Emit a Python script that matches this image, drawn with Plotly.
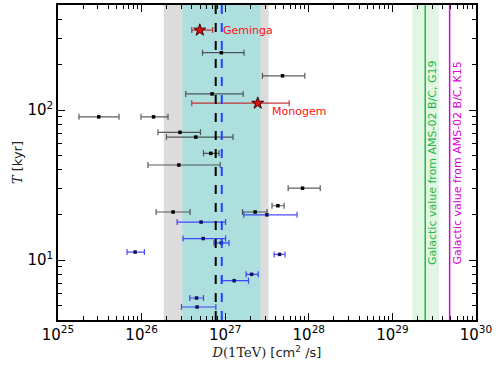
import numpy as np
import plotly.graph_objects as go

# 黑色数据点: D(1TeV) 中心值, 下限, 上限 [cm^2/s], 年龄 T [kyr]
black_D = [9.0e26, 4.85e27, 6.97e26, 3.07e25, 1.39e26, 2.88e26, 4.45e26,
           6.73e26, 2.79e26, 8.41e27, 4.27e27, 2.38e26, 2.28e27]
black_lo = [5.35e26, 2.79e27, 3.37e26, 1.78e25, 9.84e25, 1.57e26, 1.98e26,
            5.5e26, 1.19e26, 5.66e27, 3.63e27, 1.49e26, 1.61e27]
black_hi = [1.68e27, 8.97e27, 1.64e27, 5.37e25, 2.07e26, 5.06e26, 1.24e27,
            8.45e26, 8.71e26, 1.37e28, 5.07e27, 3.8e26, 3.17e27]
black_T = [241, 169, 128, 90, 90, 71, 66, 51.4, 43, 30.1, 23, 20.9, 20.9]

# 蓝色数据点
blue_D = [3.15e27, 5.15e26, 5.45e26, 9.0e26, 8.36e25, 4.47e27, 2.07e27,
          1.28e27, 4.54e26, 4.61e26]
blue_lo = [1.67e27, 2.66e26, 3.13e26, 7.36e26, 6.7e25, 3.85e27, 1.78e27,
           9.0e26, 3.77e26, 3.0e26]
blue_hi = [7.24e27, 1.01e27, 1.01e27, 1.11e27, 1.08e26, 5.21e27, 2.48e27,
           1.9e27, 5.5e26, 7.73e26]
blue_T = [20.0, 17.9, 13.9, 13.0, 11.3, 10.9, 8.03, 7.28, 5.58, 4.86]

# 脉冲星 (星形)
star_names = ['Geminga', 'Monogem']
star_D = [4.97e26, 2.45e27]
star_lo = [3.98e26, 3.98e26]
star_hi = [7.08e26, 5.82e27]
star_T = [341, 111]
label_D = [9.0e26, 3.4e27]
label_T = [341, 98]

# 参考线与带
D_black_line = 7.7e26
D_blue_line = 9.1e26
grey_band = [1.84e26, 3.3e27]
cyan_band = [3.08e26, 2.64e27]
g19_band = [1.73e29, 3.6e29]
g19_value = 2.47e29
k15_value = 4.84e29

# 刻度
x_major = [1e25, 1e26, 1e27, 1e28, 1e29, 1e30]
x_major_text = ['10<sup>25</sup>', '10<sup>26</sup>', '10<sup>27</sup>',
                '10<sup>28</sup>', '10<sup>29</sup>', '10<sup>30</sup>']
y_major = [10, 100]
y_major_text = ['10<sup>1</sup>', '10<sup>2</sup>']
x_minor = [m * 10.0 ** e for e in range(25, 30) for m in range(2, 10)]
y_minor = [m * 10.0 ** e for e in range(0, 3) for m in range(2, 10)]


def err(D, lo, hi):
    D, lo, hi = np.array(D), np.array(lo), np.array(hi)
    return hi - D, D - lo


fig = go.Figure()

# 背景带
for band, col in [(grey_band, '#dcdcdc'), (cyan_band, '#aedfdf'), (g19_band, '#e2f6e4')]:
    fig.add_shape(type='rect', xref='x', yref='paper', x0=band[0], x1=band[1],
                  y0=0, y1=1, fillcolor=col, line=dict(width=0), layer='below')

# 竖线
fig.add_shape(type='line', xref='x', yref='paper', x0=D_black_line, x1=D_black_line,
              y0=0, y1=1, line=dict(color='black', width=2, dash='dash'))
fig.add_shape(type='line', xref='x', yref='paper', x0=D_blue_line, x1=D_blue_line,
              y0=0, y1=1, line=dict(color='#2244ff', width=2, dash='dash'))
fig.add_shape(type='line', xref='x', yref='paper', x0=g19_value, x1=g19_value,
              y0=0, y1=1, line=dict(color='#22b844', width=1.5))
fig.add_shape(type='line', xref='x', yref='paper', x0=k15_value, x1=k15_value,
              y0=0, y1=1, line=dict(color='#d800d8', width=1.5))

ep, em = err(black_D, black_lo, black_hi)
fig.add_trace(go.Scatter(
    x=black_D, y=black_T, mode='markers',
    marker=dict(symbol='square', size=3.5, color='black'),
    error_x=dict(type='data', array=ep, arrayminus=em, color='rgba(40,40,40,0.75)',
                 thickness=1.2, width=3),
    showlegend=False,
))

ep, em = err(blue_D, blue_lo, blue_hi)
fig.add_trace(go.Scatter(
    x=blue_D, y=blue_T, mode='markers',
    marker=dict(symbol='square', size=3.5, color='#101060'),
    error_x=dict(type='data', array=ep, arrayminus=em, color='rgba(30,30,255,0.8)',
                 thickness=1.2, width=3),
    showlegend=False,
))

ep, em = err(star_D, star_lo, star_hi)
fig.add_trace(go.Scatter(
    x=star_D, y=star_T, mode='markers',
    marker=dict(symbol='star', size=9, color='#e01010', line=dict(color='#400000', width=1)),
    error_x=dict(type='data', array=ep, arrayminus=em, color='rgba(190,20,20,0.85)',
                 thickness=1.2, width=3),
    showlegend=False,
))

# 脉冲星标注
for name, d, t in zip(star_names, label_D, label_T):
    fig.add_annotation(x=np.log10(d), y=np.log10(t), text=name, showarrow=False,
                       xanchor='left', yanchor='middle',
                       font=dict(color='#ff1010', size=11, family='DejaVu Sans'))

# 竖直文字
fig.add_annotation(x=np.log10(g19_value), y=np.log10(9.0), text='Galactic value from AMS-02 B/C, G19',
                   textangle=-90, showarrow=False, xanchor='left', yanchor='bottom', xshift=-1,
                   font=dict(color='#22b844', size=11, family='DejaVu Sans'))
fig.add_annotation(x=np.log10(k15_value), y=np.log10(9.0), text='Galactic value from AMS-02 B/C, K15',
                   textangle=-90, showarrow=False, xanchor='left', yanchor='bottom', xshift=-1,
                   font=dict(color='#d800d8', size=11, family='DejaVu Sans'))

# 次刻度 (叠加轴)
fig.add_trace(go.Scatter(x=[1e26], y=[10], xaxis='x2', yaxis='y2', mode='markers',
                         marker=dict(opacity=0), showlegend=False, hoverinfo='skip'))

axis_common = dict(
    type='log', showgrid=False, zeroline=False, showline=True, linecolor='black',
    linewidth=1.5, mirror='allticks', ticks='inside', tickwidth=1.2,
    tickcolor='black', automargin=False,
    tickfont=dict(size=15, family='DejaVu Sans', color='black'),
)

fig.update_layout(
    xaxis=dict(range=[25, 30], tickvals=x_major, ticktext=x_major_text, ticklen=7,
               title=dict(text='<i>D</i>(1TeV) <span style="font-family:DejaVu Sans">[cm<sup>2</sup> /s]</span>',
                          standoff=4,
                          font=dict(size=13, family='DejaVu Serif', color='#222')),
               **axis_common),
    yaxis=dict(range=[0.6, 2.7], tickvals=y_major, ticktext=y_major_text, ticklen=7,
               title=dict(text='<span style="font-family:DejaVu Serif"><i>T</i></span> [kyr]', standoff=2,
                          font=dict(size=13, family='DejaVu Sans', color='#222')),
               **axis_common),
    xaxis2=dict(range=[25, 30], overlaying='x', tickvals=x_minor, ticklen=4,
                showticklabels=False, **axis_common),
    yaxis2=dict(range=[0.6, 2.7], overlaying='y', tickvals=y_minor, ticklen=4,
                showticklabels=False, **axis_common),
    width=498, height=374,
    plot_bgcolor='white', paper_bgcolor='white',
    margin=dict(l=58, r=22, t=5, b=54),
)

fig.write_html('out.html', config={'displayModeBar': False},
               post_script="document.body.style.margin='0';")
